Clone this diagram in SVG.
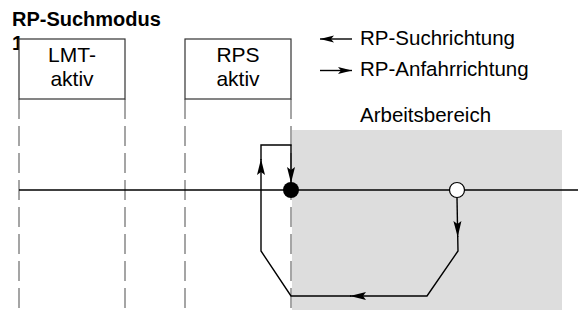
<svg xmlns="http://www.w3.org/2000/svg" width="578" height="336" viewBox="0 0 578 336">
<style>
text{font-family:"Liberation Sans",Arial,sans-serif;fill:#000}
.t{font-size:20px;font-weight:bold}
.b{font-size:21px;text-anchor:middle}
.l{font-size:20.5px}
.box{fill:#fff;stroke:#333;stroke-width:1.2}
.dash{stroke:#888;stroke-width:1.5;stroke-dasharray:20 7;fill:none}
.ln{stroke:#000;stroke-width:1.4;fill:none}
</style>
<defs>
<marker id="ah" markerUnits="userSpaceOnUse" markerWidth="20" markerHeight="10" refX="0" refY="0" orient="auto" overflow="visible">
<path d="M0,0 L-16,-4 L-13,0 L-16,4 Z" fill="#000"/>
</marker>
<marker id="ahs" markerUnits="userSpaceOnUse" markerWidth="20" markerHeight="10" refX="0" refY="0" orient="auto" overflow="visible">
<path d="M0,0 L-14,-3.6 L-11,0 L-14,3.6 Z" fill="#000"/>
</marker>
</defs>
<rect id="arbeitsbereich" x="292" y="130" width="270" height="180" fill="#dddddd"/>
<g id="grid">
<line class="dash" x1="19" y1="99" x2="19" y2="310"/>
<line class="dash" x1="125" y1="99" x2="125" y2="310"/>
<line class="dash" x1="185" y1="99" x2="185" y2="310"/>
<line class="dash" x1="291" y1="99" x2="291" y2="310"/>
</g>
<text class="t" x="12" y="26">RP-Suchmodus</text>
<text class="t" x="12" y="50">1</text>
<g id="lmt">
<rect class="box" x="19" y="39" width="106" height="60"/>
<text class="b" x="72" y="62">LMT-</text>
<text class="b" x="72" y="86">aktiv</text>
</g>
<g id="rps">
<rect class="box" x="185" y="39" width="106" height="60"/>
<text class="b" x="238" y="62">RPS</text>
<text class="b" x="238" y="86">aktiv</text>
</g>
<g id="legend">
<line class="ln" x1="352" y1="39" x2="320" y2="39" marker-end="url(#ahs)"/>
<text class="l" x="360" y="45">RP-Suchrichtung</text>
<line class="ln" x1="320" y1="70.5" x2="352" y2="70.5" marker-end="url(#ahs)"/>
<text class="l" x="360" y="76">RP-Anfahrrichtung</text>
<text class="l" x="360" y="122">Arbeitsbereich</text>
</g>
<g id="connectors">
<line class="ln" x1="19" y1="190" x2="578" y2="190"/>
<path class="ln" d="M457,197.5 L457.7,237" marker-end="url(#ah)"/>
<path class="ln" d="M457.7,236 L458,251 L427,296 L350,296" marker-end="url(#ah)"/>
<path class="ln" d="M351,296 L291,296 L261,251 L261,159" marker-end="url(#ah)"/>
<path class="ln" d="M261,160 L261,145 L291,145 L291,183" marker-end="url(#ah)"/>
</g>
<circle id="rp" cx="291" cy="190" r="8" fill="#000"/>
<circle id="start" cx="457" cy="190" r="7.5" fill="#fff" stroke="#000" stroke-width="1.2"/>
</svg>
